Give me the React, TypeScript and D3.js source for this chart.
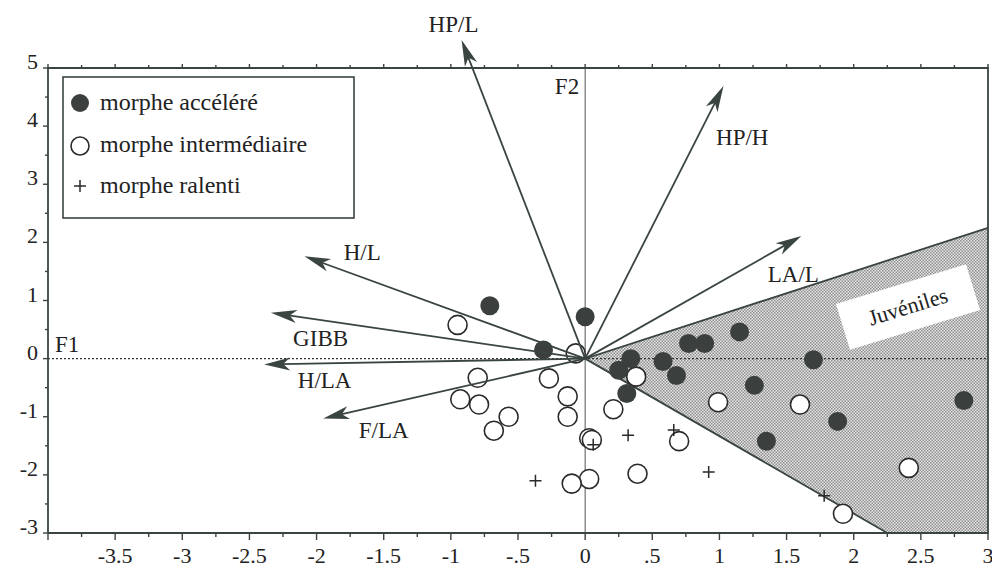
import React from "react";
import * as d3 from "d3";

// ---- data ----
const accelere: [number, number][] = [
  [-0.71, 0.91], [0.0, 0.72], [-0.31, 0.15], [0.25, -0.2], [0.34, 0.0], [0.31, -0.6],
  [0.58, -0.05], [0.68, -0.29], [0.77, 0.26], [0.89, 0.26], [1.15, 0.46], [1.26, -0.46],
  [1.7, -0.02], [1.88, -1.08], [2.82, -0.72], [1.35, -1.42],
];
const intermediaire: [number, number][] = [
  [-0.95, 0.58], [-0.07, 0.09], [-0.8, -0.33], [-0.27, -0.34], [-0.93, -0.7], [-0.79, -0.79],
  [-0.13, -0.65], [-0.13, -1.0], [-0.57, -1.0], [-0.68, -1.24], [0.21, -0.87], [0.03, -1.37],
  [0.05, -1.4], [0.38, -0.31], [0.7, -1.42], [0.39, -1.98], [0.03, -2.07], [-0.1, -2.15],
  [0.99, -0.75], [1.6, -0.79], [2.41, -1.88], [1.92, -2.67],
];
const ralenti: [number, number][] = [
  [-0.37, -2.1], [0.32, -1.32], [0.66, -1.23], [0.92, -1.95], [0.06, -1.48], [1.78, -2.36],
];
const variableNames = ["HP/L", "HP/H", "LA/L", "H/L", "GIBB", "H/LA", "F/LA"];
const variableTips: [number, number][] = [
  [-0.92, 5.48], [1.03, 4.69], [1.61, 2.11], [-2.09, 1.76], [-2.34, 0.79], [-2.39, -0.1], [-1.95, -1.03],
];
const variableLabelAt: [number, number][] = [
  [-0.98, 5.62], [1.17, 3.68], [1.55, 1.32], [-1.66, 1.69], [-1.97, 0.22], [-1.94, -0.51], [-1.5, -1.37],
];
const juvenileBoundary: [number, number][] = [[3, 2.25], [0, 0], [2.25, -3]];
const juvenileCorner: [number, number] = [3, -3];
const xTickValues = [-3.5, -3, -2.5, -2, -1.5, -1, -0.5, 0, 0.5, 1, 1.5, 2, 2.5, 3];
const xTickLabels = ["-3.5", "-3", "-2.5", "-2", "-1.5", "-1", "-.5", "0", ".5", "1", "1.5", "2", "2.5", "3"];
const yTickValues = [-3, -2, -1, 0, 1, 2, 3, 4, 5];
const legendLabels = ["morphe accéléré", "morphe intermédiaire", "morphe ralenti"];

const W = 992, H = 569;
const FONT = "'Liberation Serif', 'DejaVu Serif', serif";
const INK = "#3a4541";

const T = (size: number): React.CSSProperties => ({ fontFamily: FONT, fontSize: `${size}px` });

export default function App() {
  const x = d3.scaleLinear().domain([-4, 3]).range([48, 988]);
  const y = d3.scaleLinear().domain([-3, 5]).range([533, 68]);
  const [x0, x1] = x.range();
  const [y0, y1] = y.range();

  const minorX = d3.range(-4, 3.001, 0.25);
  const minorY = d3.range(-3, 5.001, 0.5);

  const poly = [...juvenileBoundary, juvenileCorner].map(([a, b]) => [x(a), y(b)].join(",")).join(" ");
  const boundaryPath = d3.line()(juvenileBoundary.map(([a, b]) => [x(a), y(b)] as [number, number]));

  const arrowHead = (tx: number, ty: number, ox: number, oy: number) => {
    const ang = Math.atan2(ty - oy, tx - ox);
    const L = 26, w = 6.5, notch = 19;
    const ux = Math.cos(ang), uy = Math.sin(ang);
    const px = -uy, py = ux;
    const bx = tx - ux * L, by = ty - uy * L;
    const nx = tx - ux * notch, ny = ty - uy * notch;
    return `M${tx},${ty} L${bx + px * w},${by + py * w} L${nx},${ny} L${bx - px * w},${by - py * w} Z`;
  };

  const jx = 908, jy = 307;

  return (
    <svg width={W} height={H} style={{ position: "absolute", left: 0, top: 0, background: "#fff" }}>
      <defs>
        <pattern id="stip" patternUnits="userSpaceOnUse" width={3} height={3}>
          <rect width={3} height={3} fill="#e6e6e6" />
          <rect x={0} y={0} width={1.5} height={1.5} fill="#8e8e8e" />
          <rect x={1.5} y={1.5} width={1.5} height={1.5} fill="#8e8e8e" />
        </pattern>
      </defs>
      <rect width={W} height={H} fill="#fff" />

      {/* juvenile region */}
      <polygon points={poly} fill="url(#stip)" />
      <path d={boundaryPath || ""} fill="none" stroke={INK} strokeWidth={1.8} />
      <g transform={`translate(${jx},${jy}) rotate(-17)`}>
        <rect x={-68} y={-24} width={136} height={48} fill="#fff" />
        <text x={0} y={7} textAnchor="middle" style={T(22)} fill="#222">Juvéniles</text>
      </g>

      {/* zero lines */}
      <line x1={x0} x2={x1} y1={y(0)} y2={y(0)} stroke="#333" strokeWidth={1.3} strokeDasharray="2,2" />
      <line x1={x(0)} x2={x(0)} y1={y1} y2={y0} stroke="#555" strokeWidth={1} />
      <text x={55} y={y(0) - 7} style={T(23)} fill="#222">F1</text>
      <text x={x(0) - 6} y={94} style={T(23)} fill="#222" textAnchor="end">F2</text>

      {/* points */}
      {intermediaire.map(([a, b], i) => (
        <circle key={"i" + i} cx={x(a)} cy={y(b)} r={9.5} fill="#fff" stroke="#2a2a2a" strokeWidth={1.6} />
      ))}
      {accelere.map(([a, b], i) => (
        <circle key={"a" + i} cx={x(a)} cy={y(b)} r={9.5} fill="#3b403e" />
      ))}
      {ralenti.map(([a, b], i) => (
        <path key={"r" + i} d={`M${x(a) - 6},${y(b)} h12 M${x(a)},${y(b) - 6} v12`} stroke="#2a2a2a" strokeWidth={1.5} />
      ))}

      {/* arrows */}
      {variableTips.map(([a, b], i) => {
        const ox = x(0), oy = y(0), tx = x(a), ty = y(b);
        const ang = Math.atan2(ty - oy, tx - ox);
        const ex = tx - Math.cos(ang) * 18, ey = ty - Math.sin(ang) * 18;
        return (
          <g key={"v" + i}>
            <line x1={ox} y1={oy} x2={ex} y2={ey} stroke={INK} strokeWidth={1.8} />
            <path d={arrowHead(tx, ty, ox, oy)} fill={INK} />
          </g>
        );
      })}
      {variableNames.map((n, i) => (
        <text key={"vl" + i} x={x(variableLabelAt[i][0])} y={y(variableLabelAt[i][1])} textAnchor="middle" style={T(23)} fill="#222">{n}</text>
      ))}

      {/* axes */}
      <path d={`M${x0},${y0} V${y1} H${x1} V${y0} H${x0}`} fill="none" stroke={INK} strokeWidth={1.8} />
      {minorX.map((v, i) => {
        const major = Math.abs(v * 2 - Math.round(v * 2)) < 1e-6;
        return (
          <g key={"tx" + i}>
            <line x1={x(v)} x2={x(v)} y1={y0} y2={y0 + (major ? 7 : 4)} stroke={INK} strokeWidth={1.4} />
            <line x1={x(v)} x2={x(v)} y1={y1} y2={y1 - (major ? 4 : 3)} stroke={INK} strokeWidth={1.4} />
          </g>
        );
      })}
      {minorY.map((v, i) => {
        const major = Math.abs(v - Math.round(v)) < 1e-6;
        return <line key={"ty" + i} x1={x0} x2={x0 - (major ? 5 : 3)} y1={y(v)} y2={y(v)} stroke={INK} strokeWidth={1.4} />;
      })}
      {xTickValues.map((v, i) => (
        <text key={"xl" + i} x={x(v)} y={563} textAnchor="middle" style={T(22)} fill="#222">{xTickLabels[i]}</text>
      ))}
      {yTickValues.map((v, i) => (
        <text key={"yl" + i} x={38} y={y(v) + 1} textAnchor="end" style={T(22)} fill="#222">{String(v)}</text>
      ))}

      {/* legend */}
      <rect x={63} y={77} width={291} height={141} fill="#fff" stroke={INK} strokeWidth={1.6} />
      <circle cx={80} cy={103} r={9} fill="#3b403e" />
      <circle cx={80} cy={146} r={9} fill="#fff" stroke="#2a2a2a" strokeWidth={1.6} />
      <path d={`M74,186 h12 M80,180 v12`} stroke="#2a2a2a" strokeWidth={1.5} />
      {legendLabels.map((t, i) => (
        <text key={"lg" + i} x={100} y={110 + i * 41.5} style={T(24)} fill="#222">{t}</text>
      ))}
    </svg>
  );
}
